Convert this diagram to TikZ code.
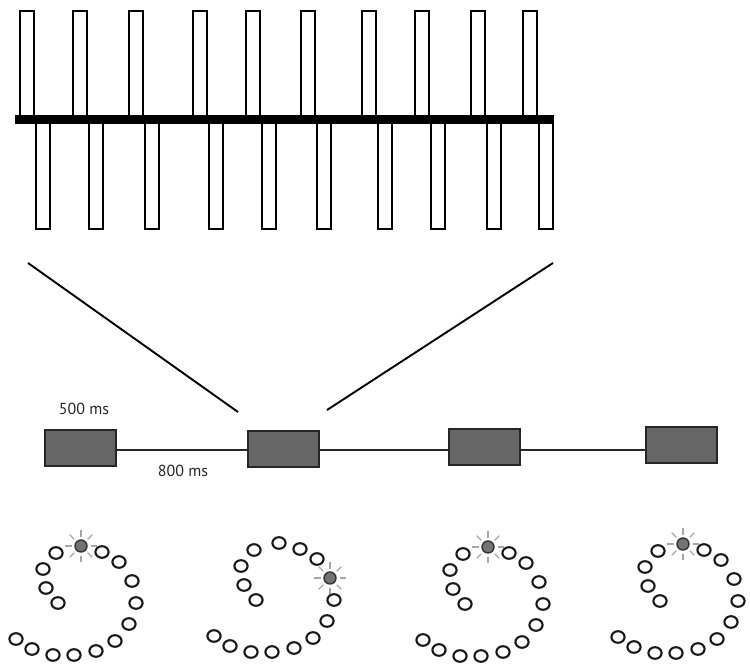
\documentclass[tikz,border=0pt]{standalone}
\usepackage{fontspec}
\setsansfont{PT Sans}
\usetikzlibrary{positioning, calc}

\tikzset{
  bar/.style={draw=black, line width=2pt, fill=white},
  stim/.style={draw=black!85, line width=2pt, fill=black!60, minimum width=71pt, minimum height=36pt, inner sep=0pt},
  dot/.style={draw=black!90, line width=2.1pt, fill=white},
  lit/.style={draw=black!80, line width=1.4pt, fill=black!55},
  ray/.style={draw=black!35, line width=1.1pt},
  lbl/.style={font=\sffamily\fontsize{16}{16}\selectfont, text=black!85, inner sep=0pt}
}

\begin{document}
\begin{tikzpicture}[x=1pt, y=-1pt]
  \useasboundingbox (0,0) rectangle (750,670);
  % comb of bars
  \foreach \x in {19,72,128,192,245,300,361,414,470,522}{
    \draw[bar] (\x+1,11) rectangle (\x+15,118);
    \draw[bar] (\x+17,121) rectangle (\x+31,229);
  }
  \fill (15,115) rectangle (554,124);

  % zoom lines
  \coordinate (zl) at (28,263);
  \coordinate (zr) at (553,263);
  \coordinate (zlend) at (238,412);
  \coordinate (zrend) at (327,410);
  \draw[line width=1.9pt] (zl) -- (zlend);
  \draw[line width=1.9pt] (zr) -- (zrend);

  % time line
  \coordinate (tl) at (0,450);
  \node[stim] (s1) at (80.5,448) {};
  \node[stim] (s2) at (283,448.5) {};
  \node[stim] (s3) at (484,446.5) {};
  \node[stim] (s4) at (681.5,445) {};
  \draw[line width=2pt, black!85] (s1.east |- tl) -- (s2.west |- tl);
  \draw[line width=2pt, black!85] (s2.east |- tl) -- (s3.west |- tl);
  \draw[line width=2pt, black!85] (s3.east |- tl) -- (s4.west |- tl);
  \node[lbl] (t1) at (84,409) {500 ms};
  \node[lbl] (t2) at (183,471) {800 ms};

  % search displays
  \foreach \gx/\gy/\hl in {81/546/1, 279/543/7, 488/547/1, 683/544/1}{
    \foreach [count=\i] \dx/\dy in {0/0, -25/7, 21/6, -38/23, 38/16, -35/42, 51/35, -23/57, 55/57, 48/78, -65/93, 34/95, -49/103, -28/109, -7/109, 15/105}{
      \begin{scope}[shift={(\gx+\dx,\gy+\dy)}]
        \ifnum\i=\hl
          \foreach \a in {0,45,...,315}
            \draw[ray] (\a:9.5) -- (\a:16);
          \draw[lit] (0,0) circle [radius=6];
        \else
          \draw[dot] (0,0) ellipse [x radius=6.6, y radius=5.8];
        \fi
      \end{scope}
    }
  }
\end{tikzpicture}
\end{document}
